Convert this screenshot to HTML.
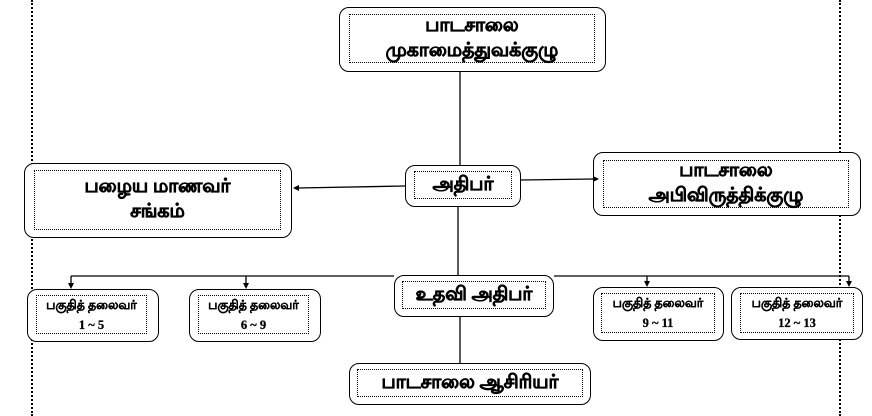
<!DOCTYPE html>
<html><head><meta charset="utf-8">
<style>
html,body{margin:0;padding:0;background:#fff;}
body{width:872px;height:416px;position:relative;overflow:hidden;font-family:"Liberation Serif","Noto Sans CJK SC",serif;font-weight:bold;color:#000;}
.b{position:absolute;border:1.5px solid #000;border-radius:10px;box-sizing:border-box;background:#fff;}
.i{position:absolute;border:1px dotted #000;box-sizing:border-box;display:flex;flex-direction:column;align-items:center;justify-content:center;text-align:center;line-height:1.3;-webkit-text-stroke:0.6px #000;}
.vl{position:absolute;top:0;height:416px;border-left:2px dotted #000;}
.L{font-size:19px;}
.S{font-size:12.5px;line-height:1.6;-webkit-text-stroke:0.3px #000;}
</style></head><body>
<div class="vl" style="left:31px"></div>
<div class="vl" style="left:839px"></div>

<div class="b" style="left:339px;top:7px;width:267px;height:65px"></div>
<div class="i L" style="left:349px;top:14px;width:246px;height:49px">பாடசாலை<br>முகாமைத்துவக்குழு</div>

<div class="b" style="left:405px;top:165px;width:116px;height:42px"></div>
<div class="i L" style="left:414px;top:171px;width:98px;height:28px">அதிபர்</div>

<div class="b" style="left:24px;top:163px;width:268px;height:75px"></div>
<div class="i L" style="left:34px;top:170px;width:247px;height:60px">பழைய மாணவர்<br>சங்கம்</div>

<div class="b" style="left:593px;top:152px;width:268px;height:64px"></div>
<div class="i L" style="left:603px;top:160px;width:246px;height:48px">பாடசாலை<br>அபிவிருத்திக்குழு</div>

<div class="b" style="left:394px;top:275px;width:160px;height:42px"></div>
<div class="i L" style="left:402px;top:281px;width:144px;height:28px">உதவி அதிபர்</div>

<div class="b" style="left:27px;top:289px;width:132px;height:53px"></div>
<div class="i S" style="left:36px;top:295px;width:111px;height:39px">பகுதித் தலைவர்<br>1 ~ 5</div>

<div class="b" style="left:189px;top:289px;width:132px;height:53px"></div>
<div class="i S" style="left:198px;top:295px;width:111px;height:39px">பகுதித் தலைவர்<br>6 ~ 9</div>

<div class="b" style="left:593px;top:287px;width:131px;height:54px"></div>
<div class="i S" style="left:601px;top:293px;width:114px;height:40px">பகுதித் தலைவர்<br>9 ~ 11</div>

<div class="b" style="left:731px;top:287px;width:132px;height:53px"></div>
<div class="i S" style="left:740px;top:293px;width:114px;height:40px">பகுதித் தலைவர்<br>12 ~ 13</div>

<div class="b" style="left:349px;top:363px;width:242px;height:42px"></div>
<div class="i L" style="left:357px;top:369px;width:226px;height:28px">பாடசாலை ஆசிரியர்</div>

<svg width="872" height="416" style="position:absolute;left:0;top:0">
<g stroke="#000" stroke-width="1.3" fill="none">
<line x1="460" y1="72" x2="460" y2="165"/>
<line x1="458" y1="207" x2="458" y2="275"/>
<line x1="405" y1="186" x2="298" y2="188"/>
<line x1="521" y1="180" x2="594" y2="179"/>
<line x1="71" y1="276" x2="394" y2="276"/>
<line x1="554" y1="276" x2="849" y2="276"/>
<line x1="71" y1="276" x2="71" y2="284"/>
<line x1="246" y1="276" x2="246" y2="284"/>
<line x1="647" y1="276" x2="647" y2="282"/>
<line x1="849" y1="276" x2="849" y2="282"/>
<line x1="460" y1="317" x2="460" y2="363"/>
</g>
<g fill="#000">
<polygon points="293,188 299,185 299,191"/>
<polygon points="599,179 593,176 593,182"/>
<polygon points="71,289 68,283 74,283"/>
<polygon points="246,289 243,283 249,283"/>
<polygon points="647,287 644,281 650,281"/>
<polygon points="849,287 846,281 852,281"/>
</g>
</svg>
</body></html>
